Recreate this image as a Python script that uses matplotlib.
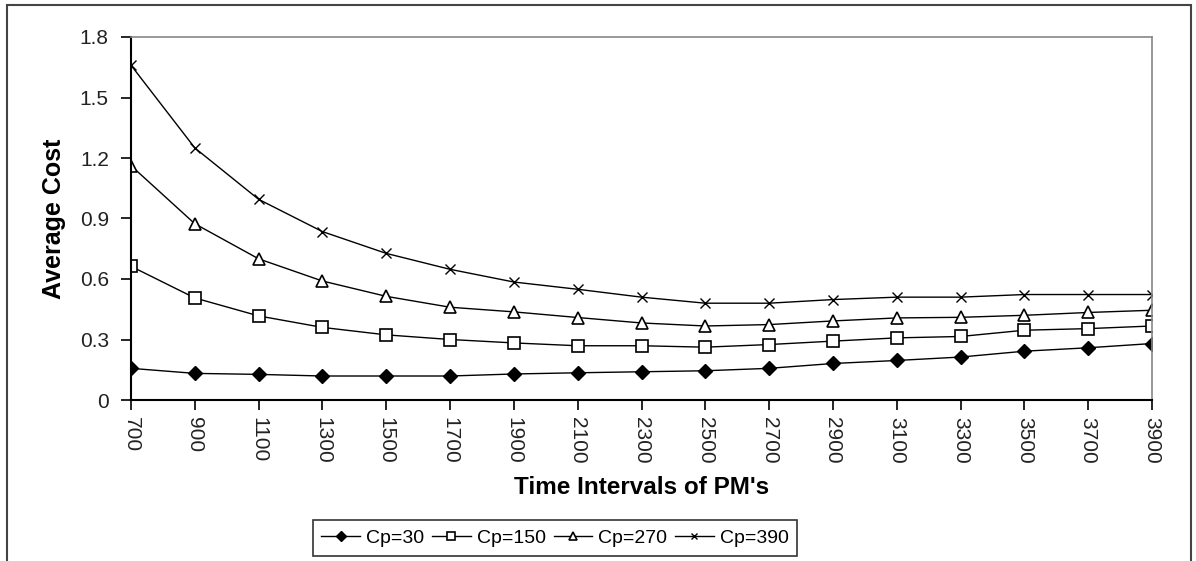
import matplotlib.pyplot as plt
from matplotlib.patches import Rectangle

plt.rcParams["font.family"] = ["Liberation Sans", "DejaVu Sans"]

intervals = [700, 900, 1100, 1300, 1500, 1700, 1900, 2100, 2300,
             2500, 2700, 2900, 3100, 3300, 3500, 3700, 3900]
cp30 = [0.157, 0.132, 0.127, 0.119, 0.119, 0.119, 0.129, 0.135, 0.140,
        0.145, 0.157, 0.181, 0.196, 0.213, 0.242, 0.259, 0.280]
cp150 = [0.663, 0.506, 0.417, 0.360, 0.323, 0.300, 0.283, 0.269, 0.269,
         0.262, 0.275, 0.292, 0.308, 0.315, 0.346, 0.354, 0.367]
cp270 = [1.162, 0.874, 0.700, 0.590, 0.514, 0.460, 0.437, 0.409, 0.382,
         0.367, 0.374, 0.392, 0.407, 0.410, 0.420, 0.434, 0.445]
cp390 = [1.660, 1.250, 0.995, 0.835, 0.727, 0.648, 0.585, 0.549, 0.510,
         0.480, 0.480, 0.498, 0.510, 0.510, 0.523, 0.523, 0.523]
yticks = [0, 0.3, 0.6, 0.9, 1.2, 1.5, 1.8]
ytick_labels = ["0", "0.3", "0.6", "0.9", "1.2", "1.5", "1.8"]

fig = plt.figure(figsize=(11.96, 5.61), dpi=100)
ax = fig.add_axes([131 / 1196, 1 - 400 / 561, (1152 - 131) / 1196, (400 - 37) / 561])

ax.plot(intervals, cp30, color="black", lw=1, marker="D", ms=7,
        mfc="black", label="Cp=30")
ax.plot(intervals, cp150, color="black", lw=1, marker="s", ms=8,
        mfc="white", mew=1.2, label="Cp=150")
ax.plot(intervals, cp270, color="black", lw=1, marker="^", ms=9,
        mfc="white", mew=1.2, label="Cp=270")
ax.plot(intervals, cp390, color="black", lw=1, marker="x", ms=7,
        mew=1, label="Cp=390")

ax.set_xlim(700, 3900)
ax.set_ylim(0, 1.8)
ax.set_xticks(intervals)
ax.set_xticklabels([str(v) for v in intervals], rotation=270, fontsize=15)
ax.set_yticks(yticks)
ax.set_yticklabels(ytick_labels, fontsize=15)
ax.tick_params(axis="both", direction="out", length=7, width=1.2, color="black",
               labelcolor="#222222")
ax.tick_params(axis="y", pad=9)
ax.tick_params(axis="x", pad=5)

for s in ["left", "bottom"]:
    ax.spines[s].set_color("black")
    ax.spines[s].set_linewidth(1.5)
for s in ["top", "right"]:
    ax.spines[s].set_color("#888888")
    ax.spines[s].set_linewidth(1.2)

ax.set_xlabel("Time Intervals of PM's", fontsize=17.5, fontweight="bold", labelpad=9)
ax.set_ylabel("Average Cost", fontsize=18, fontweight="bold", labelpad=10)

leg = fig.legend(loc="center", bbox_to_anchor=(555 / 1196, 1 - 538 / 561), ncol=4,
                 fontsize=14, frameon=True, fancybox=False, edgecolor="black",
                 handlelength=2.0, handletextpad=0.3, columnspacing=0.4,
                 borderpad=0.45, markerscale=0.7)
leg.get_frame().set_linewidth(1.2)

fig.patches.append(Rectangle((7 / 1196, -0.01), (1191 - 7) / 1196, 1 - 5 / 561 + 0.01,
                             transform=fig.transFigure, fill=False,
                             edgecolor="#444444", lw=1.5))

fig.savefig("out.png", dpi=100)
